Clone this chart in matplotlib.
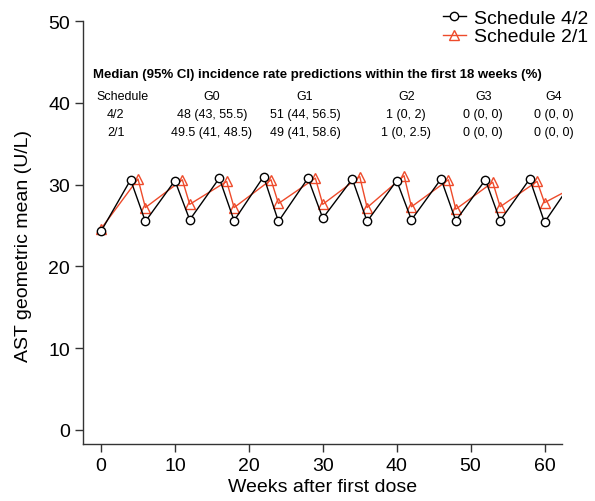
import matplotlib
matplotlib.use('Agg')
import matplotlib.pyplot as plt

plt.rcParams['font.family'] = ['Liberation Sans', 'DejaVu Sans']

# Schedule 4/2 (black circles)
weeks_42 = [0, 4, 6, 10, 12, 16, 18, 22, 24, 28, 30, 34, 36, 40, 42, 46, 48, 52, 54, 58, 60]
ast_42 = [24.3, 30.6, 25.5, 30.5, 25.7, 30.8, 25.6, 31.0, 25.5, 30.8, 25.9, 30.7,
          25.5, 30.5, 25.7, 30.7, 25.6, 30.6, 25.6, 30.7, 25.4]
end_42 = (62.5, 28.7)

# Schedule 2/1 (red triangles)
weeks_21 = [0, 5, 6, 11, 12, 17, 18, 23, 24, 29, 30, 35, 36, 41, 42, 47, 48, 53, 54, 59, 60]
ast_21 = [24.6, 30.7, 27.2, 30.6, 27.6, 30.4, 27.2, 30.6, 27.7, 30.8, 27.6, 31.0,
          27.2, 31.1, 27.3, 30.6, 27.0, 30.3, 27.3, 30.4, 27.8]
end_21 = (62.5, 29.0)

# table of incidence rate predictions
table_title = 'Median (95% CI) incidence rate predictions within the first 18 weeks (%)'
table_header = ['Schedule', 'G0', 'G1', 'G2', 'G3', 'G4']
table_rows = [
    ['4/2', '48 (43, 55.5)', '51 (44, 56.5)', '1 (0, 2)', '0 (0, 0)', '0 (0, 0)'],
    ['2/1', '49.5 (41, 48.5)', '49 (41, 58.6)', '1 (0, 2.5)', '0 (0, 0)', '0 (0, 0)'],
]

red = '#EE4B2B'
fs = 14

fig = plt.figure(figsize=(5.95, 5.02), dpi=100)
ax = fig.add_axes([0.140, 0.1135, 0.8037, 0.8421])

ax.plot(weeks_21 + [end_21[0]], ast_21 + [end_21[1]], color=red, lw=1.0, zorder=2)
ax.plot(weeks_21, ast_21, ls='none', marker='^', ms=7, mfc='none', mec=red, mew=1.0, zorder=3)
ax.plot(weeks_42 + [end_42[0]], ast_42 + [end_42[1]], color='black', lw=1.0, zorder=4)
ax.plot(weeks_42, ast_42, ls='none', marker='o', ms=6, mfc='white', mec='black', mew=1.0, zorder=5)

# legend handles
h42, = ax.plot([], [], color='black', lw=1.0, marker='o', ms=6, mfc='white', mec='black')
h21, = ax.plot([], [], color=red, lw=1.0, marker='^', ms=7, mfc='none', mec=red)
fig.legend([h42, h21], ['Schedule 4/2', 'Schedule 2/1'], loc='upper left',
           bbox_to_anchor=(0.731, 0.995), frameon=False, fontsize=fs,
           handlelength=1.2, handletextpad=0.4, labelspacing=0.05, borderaxespad=0)

ax.set_xlim(-2.4, 62.3)
ax.set_ylim(-1.74, 50)
ax.set_xticks([0, 10, 20, 30, 40, 50, 60])
ax.set_yticks([0, 10, 20, 30, 40, 50])
ax.spines['top'].set_visible(False)
ax.spines['right'].set_visible(False)
for s in ['left', 'bottom']:
    ax.spines[s].set_color('#333333')
    ax.spines[s].set_linewidth(1.0)
ax.tick_params(direction='out', length=5.5, width=1.0, colors='#333333',
               labelcolor='black', labelsize=fs, pad=4)
ax.set_xlabel('Weeks after first dose', fontsize=fs, labelpad=3)
ax.set_ylabel('AST geometric mean (U/L)', fontsize=fs)
ax.yaxis.set_label_coords(-0.108, 0.47)

# table text
col_x = [2.9, 15.0, 27.6, 41.3, 51.7, 61.2]
row_x0 = 2.0
ax.text(-1.1, 43.5, table_title, fontsize=9.5, fontweight='bold', ha='left', va='center')
for x, h in zip(col_x, table_header):
    ax.text(x, 40.9, h, fontsize=9, ha='center', va='center')
for y, row in zip([38.7, 36.4], table_rows):
    xs = [row_x0] + col_x[1:]
    for x, v in zip(xs, row):
        ax.text(x, y, v, fontsize=9, ha='center', va='center')

fig.savefig('out.png', dpi=100)
